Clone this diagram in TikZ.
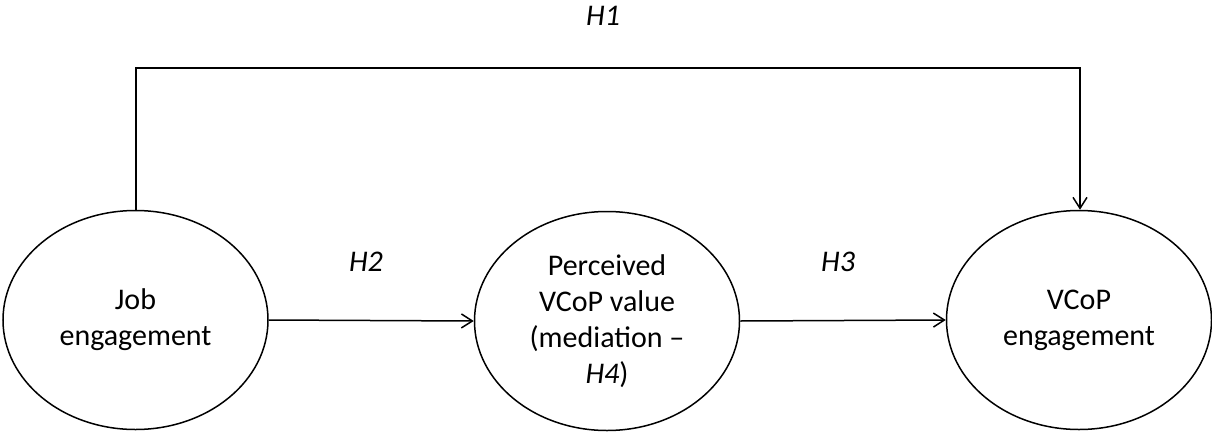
\documentclass[tikz,border=0pt]{standalone}
\usepackage{fontspec}
\setmainfont{Carlito}
\usetikzlibrary{shapes.geometric,arrows.meta}
\begin{document}
\begin{tikzpicture}[x=1pt,y=-1pt,
  every node/.style={font=\fontsize{30}{36}\selectfont},
  construct/.style={draw,line width=1.5pt,ellipse,minimum width=265pt,minimum height=219pt,inner sep=0pt,align=center},
  link/.style={line width=1.5pt,-{Straight Barb[length=11pt,width=14pt,line width=1.5pt]}},
  hyp/.style={font=\fontsize{30}{36}\selectfont\itshape}]
\useasboundingbox (0,0) rectangle (1212,434);
\node[construct] (job) at (135.5,320) {Job\\engagement};
\node[construct] (pv) at (607,321) {Perceived\\VCoP value\\(mediation --\\\textit{H4})};
\node[construct] (vc) at (1079,320) {VCoP\\engagement};
\coordinate (c1) at (136,68);
\coordinate (c2) at (1080,68);
\draw[link] (job.north -| c1) -- (c1) -- (c2) -- (vc.north -| c2);
\draw[link] (job.east) -- (pv.west);
\draw[link] (pv.east) -- (vc.west);
\node[hyp] (h1) at (603,16) {H1};
\node[hyp] (h2) at (366,262) {H2};
\node[hyp] (h3) at (838,262) {H3};
\end{tikzpicture}
\end{document}
